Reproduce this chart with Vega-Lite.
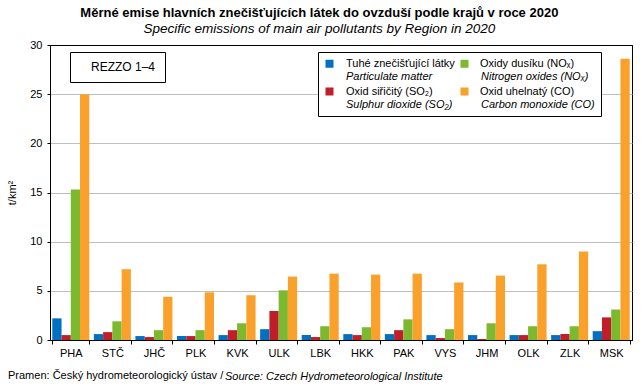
{
  "$schema": "https://vega.github.io/schema/vega-lite/v6.json",
  "width": 582,
  "height": 295,
  "autosize": {"type": "none"},
  "padding": {"left": 50, "top": 45, "right": 11, "bottom": 50},
  "config": {
    "font": "Liberation Sans",
    "view": {"stroke": "black", "strokeWidth": 1},
    "axis": {"labelColor": "black", "titleColor": "black", "domainColor": "black", "tickColor": "black", "labelFontSize": 11, "titleFontSize": 11, "titleFontWeight": "normal"}
  },
  "title": {
    "text": "Měrné emise hlavních znečišťujících látek do ovzduší podle krajů v roce 2020",
    "subtitle": "Specific emissions of main air pollutants by Region in 2020",
    "anchor": "middle",
    "frame": "bounds",
    "fontSize": 13,
    "fontWeight": "bold",
    "color": "black",
    "subtitleFontSize": 13.5,
    "subtitleFontStyle": "italic",
    "subtitleColor": "black",
    "subtitlePadding": 2,
    "offset": 4
  },
  "layer": [
    {
      "data": {"values": [
        {"region": "PHA", "cz": "Tuhé znečišťující látky", "en": "Particulate matter", "value": 2.2},
        {"region": "PHA", "cz": "Oxid siřičitý (SO₂)", "en": "Sulphur dioxide (SO₂)", "value": 0.5},
        {"region": "PHA", "cz": "Oxidy dusíku (NOₓ)", "en": "Nitrogen oxides (NOₓ)", "value": 15.3},
        {"region": "PHA", "cz": "Oxid uhelnatý (CO)", "en": "Carbon monoxide (CO)", "value": 25.0},
        {"region": "STČ", "cz": "Tuhé znečišťující látky", "en": "Particulate matter", "value": 0.6},
        {"region": "STČ", "cz": "Oxid siřičitý (SO₂)", "en": "Sulphur dioxide (SO₂)", "value": 0.8},
        {"region": "STČ", "cz": "Oxidy dusíku (NOₓ)", "en": "Nitrogen oxides (NOₓ)", "value": 1.9},
        {"region": "STČ", "cz": "Oxid uhelnatý (CO)", "en": "Carbon monoxide (CO)", "value": 7.2},
        {"region": "JHČ", "cz": "Tuhé znečišťující látky", "en": "Particulate matter", "value": 0.4},
        {"region": "JHČ", "cz": "Oxid siřičitý (SO₂)", "en": "Sulphur dioxide (SO₂)", "value": 0.3},
        {"region": "JHČ", "cz": "Oxidy dusíku (NOₓ)", "en": "Nitrogen oxides (NOₓ)", "value": 1.0},
        {"region": "JHČ", "cz": "Oxid uhelnatý (CO)", "en": "Carbon monoxide (CO)", "value": 4.4},
        {"region": "PLK", "cz": "Tuhé znečišťující látky", "en": "Particulate matter", "value": 0.4},
        {"region": "PLK", "cz": "Oxid siřičitý (SO₂)", "en": "Sulphur dioxide (SO₂)", "value": 0.4},
        {"region": "PLK", "cz": "Oxidy dusíku (NOₓ)", "en": "Nitrogen oxides (NOₓ)", "value": 1.0},
        {"region": "PLK", "cz": "Oxid uhelnatý (CO)", "en": "Carbon monoxide (CO)", "value": 4.85},
        {"region": "KVK", "cz": "Tuhé znečišťující látky", "en": "Particulate matter", "value": 0.5},
        {"region": "KVK", "cz": "Oxid siřičitý (SO₂)", "en": "Sulphur dioxide (SO₂)", "value": 1.0},
        {"region": "KVK", "cz": "Oxidy dusíku (NOₓ)", "en": "Nitrogen oxides (NOₓ)", "value": 1.7},
        {"region": "KVK", "cz": "Oxid uhelnatý (CO)", "en": "Carbon monoxide (CO)", "value": 4.55},
        {"region": "ULK", "cz": "Tuhé znečišťující látky", "en": "Particulate matter", "value": 1.1},
        {"region": "ULK", "cz": "Oxid siřičitý (SO₂)", "en": "Sulphur dioxide (SO₂)", "value": 2.95},
        {"region": "ULK", "cz": "Oxidy dusíku (NOₓ)", "en": "Nitrogen oxides (NOₓ)", "value": 5.05},
        {"region": "ULK", "cz": "Oxid uhelnatý (CO)", "en": "Carbon monoxide (CO)", "value": 6.45},
        {"region": "LBK", "cz": "Tuhé znečišťující látky", "en": "Particulate matter", "value": 0.5},
        {"region": "LBK", "cz": "Oxid siřičitý (SO₂)", "en": "Sulphur dioxide (SO₂)", "value": 0.3},
        {"region": "LBK", "cz": "Oxidy dusíku (NOₓ)", "en": "Nitrogen oxides (NOₓ)", "value": 1.4},
        {"region": "LBK", "cz": "Oxid uhelnatý (CO)", "en": "Carbon monoxide (CO)", "value": 6.75},
        {"region": "HKK", "cz": "Tuhé znečišťující látky", "en": "Particulate matter", "value": 0.6},
        {"region": "HKK", "cz": "Oxid siřičitý (SO₂)", "en": "Sulphur dioxide (SO₂)", "value": 0.5},
        {"region": "HKK", "cz": "Oxidy dusíku (NOₓ)", "en": "Nitrogen oxides (NOₓ)", "value": 1.3},
        {"region": "HKK", "cz": "Oxid uhelnatý (CO)", "en": "Carbon monoxide (CO)", "value": 6.65},
        {"region": "PAK", "cz": "Tuhé znečišťující látky", "en": "Particulate matter", "value": 0.6},
        {"region": "PAK", "cz": "Oxid siřičitý (SO₂)", "en": "Sulphur dioxide (SO₂)", "value": 1.0},
        {"region": "PAK", "cz": "Oxidy dusíku (NOₓ)", "en": "Nitrogen oxides (NOₓ)", "value": 2.1},
        {"region": "PAK", "cz": "Oxid uhelnatý (CO)", "en": "Carbon monoxide (CO)", "value": 6.75},
        {"region": "VYS", "cz": "Tuhé znečišťující látky", "en": "Particulate matter", "value": 0.5},
        {"region": "VYS", "cz": "Oxid siřičitý (SO₂)", "en": "Sulphur dioxide (SO₂)", "value": 0.2},
        {"region": "VYS", "cz": "Oxidy dusíku (NOₓ)", "en": "Nitrogen oxides (NOₓ)", "value": 1.1},
        {"region": "VYS", "cz": "Oxid uhelnatý (CO)", "en": "Carbon monoxide (CO)", "value": 5.85},
        {"region": "JHM", "cz": "Tuhé znečišťující látky", "en": "Particulate matter", "value": 0.5},
        {"region": "JHM", "cz": "Oxid siřičitý (SO₂)", "en": "Sulphur dioxide (SO₂)", "value": 0.1},
        {"region": "JHM", "cz": "Oxidy dusíku (NOₓ)", "en": "Nitrogen oxides (NOₓ)", "value": 1.7},
        {"region": "JHM", "cz": "Oxid uhelnatý (CO)", "en": "Carbon monoxide (CO)", "value": 6.55},
        {"region": "OLK", "cz": "Tuhé znečišťující látky", "en": "Particulate matter", "value": 0.5},
        {"region": "OLK", "cz": "Oxid siřičitý (SO₂)", "en": "Sulphur dioxide (SO₂)", "value": 0.5},
        {"region": "OLK", "cz": "Oxidy dusíku (NOₓ)", "en": "Nitrogen oxides (NOₓ)", "value": 1.4},
        {"region": "OLK", "cz": "Oxid uhelnatý (CO)", "en": "Carbon monoxide (CO)", "value": 7.7},
        {"region": "ZLK", "cz": "Tuhé znečišťující látky", "en": "Particulate matter", "value": 0.5},
        {"region": "ZLK", "cz": "Oxid siřičitý (SO₂)", "en": "Sulphur dioxide (SO₂)", "value": 0.6},
        {"region": "ZLK", "cz": "Oxidy dusíku (NOₓ)", "en": "Nitrogen oxides (NOₓ)", "value": 1.4},
        {"region": "ZLK", "cz": "Oxid uhelnatý (CO)", "en": "Carbon monoxide (CO)", "value": 9.0},
        {"region": "MSK", "cz": "Tuhé znečišťující látky", "en": "Particulate matter", "value": 0.9},
        {"region": "MSK", "cz": "Oxid siřičitý (SO₂)", "en": "Sulphur dioxide (SO₂)", "value": 2.3},
        {"region": "MSK", "cz": "Oxidy dusíku (NOₓ)", "en": "Nitrogen oxides (NOₓ)", "value": 3.1},
        {"region": "MSK", "cz": "Oxid uhelnatý (CO)", "en": "Carbon monoxide (CO)", "value": 28.6}
      ]},
      "mark": {"type": "bar", "strokeWidth": 0},
      "encoding": {
        "x": {
          "field": "region", "type": "nominal",
          "sort": ["PHA", "STČ", "JHČ", "PLK", "KVK", "ULK", "LBK", "HKK", "PAK", "VYS", "JHM", "OLK", "ZLK", "MSK"],
          "scale": {"paddingInner": 0.11, "paddingOuter": 0.055},
          "axis": {"title": null, "labelAngle": 0, "tickBand": "extent", "tickSize": 4, "labelPadding": 3, "grid": false}
        },
        "xOffset": {
          "field": "cz", "type": "nominal",
          "sort": ["Tuhé znečišťující látky", "Oxid siřičitý (SO₂)", "Oxidy dusíku (NOₓ)", "Oxid uhelnatý (CO)"],
          "scale": {"paddingInner": 0, "paddingOuter": 0}
        },
        "y": {
          "field": "value", "type": "quantitative",
          "scale": {"domain": [0, 30], "nice": false},
          "axis": {
            "title": "t/km²", "values": [0, 5, 10, 15, 20, 25, 30], "tickSize": 3, "labelPadding": 5, "titlePadding": 12,
            "gridColor": {"condition": {"test": "datum.value === 0 || datum.value === 30", "value": "black"}, "value": "#BFBFBF"}
          }
        },
        "color": {
          "field": "en", "type": "nominal",
          "scale": {
            "domain": ["Particulate matter", "Sulphur dioxide (SO₂)", "Nitrogen oxides (NOₓ)", "Carbon monoxide (CO)"],
            "range": ["#0070C0", "#C01F2A", "#7DB92F", "#F9A12A"]
          },
          "legend": {
            "orient": "none", "legendX": 268, "legendY": 7, "title": null, "columns": 2, "columnPadding": 6, "rowPadding": 3,
            "symbolType": "square", "symbolSize": 64, "symbolStrokeWidth": 0, "labelOffset": 11,
            "labelFontSize": 11, "labelFontStyle": "italic", "labelColor": "black", "labelLimit": 300,
            "labelExpr": "['', datum.label]",
            "strokeColor": "black", "fillColor": "white", "padding": 6
          }
        },
        "stroke": {
          "field": "cz", "type": "nominal",
          "scale": {
            "domain": ["Tuhé znečišťující látky", "Oxid siřičitý (SO₂)", "Oxidy dusíku (NOₓ)", "Oxid uhelnatý (CO)"],
            "range": ["#0070C0", "#C01F2A", "#7DB92F", "#F9A12A"]
          },
          "legend": {
            "orient": "none", "legendX": 268, "legendY": 7, "title": null, "columns": 2, "columnPadding": 3, "rowPadding": 3,
            "symbolType": "square", "symbolSize": 64, "symbolStrokeWidth": 0, "symbolOpacity": 0, "labelOffset": 11,
            "labelFontSize": 11, "labelColor": "black", "labelLimit": 300,
            "labelExpr": "[datum.label, '']",
            "padding": 6
          }
        }
      }
    },
    {
      "data": {"values": [{"note": "REZZO 1–4"}]},
      "mark": {"type": "point", "opacity": 0},
      "encoding": {
        "shape": {
          "field": "note", "type": "nominal",
          "legend": {
            "orient": "none", "legendX": 20, "legendY": 7, "title": null,
            "symbolSize": 0, "symbolOpacity": 0, "symbolStrokeWidth": 0, "labelOffset": 0,
            "labelFontSize": 12, "labelColor": "black",
            "strokeColor": "black", "fillColor": "white", "padding": 9
          }
        }
      }
    },
    {
      "data": {"values": [{"src": "Source: Czech Hydrometeorological Institute"}]},
      "mark": {"type": "point", "opacity": 0},
      "encoding": {
        "fill": {
          "field": "src", "type": "nominal",
          "legend": {
            "orient": "none", "legendX": -42, "legendY": 326, "direction": "horizontal",
            "title": "Pramen: Český hydrometeorologický ústav /", "titleOrient": "left", "titleLimit": 400,
            "titleFontSize": 11, "titleFontWeight": "normal", "titleColor": "black", "titlePadding": -10, "titleBaseline": "middle",
            "symbolSize": 0, "symbolOpacity": 0, "symbolStrokeWidth": 0, "labelOffset": 0,
            "labelFontSize": 11, "labelFontStyle": "italic", "labelColor": "black", "labelLimit": 400
          }
        }
      }
    }
  ]
}
